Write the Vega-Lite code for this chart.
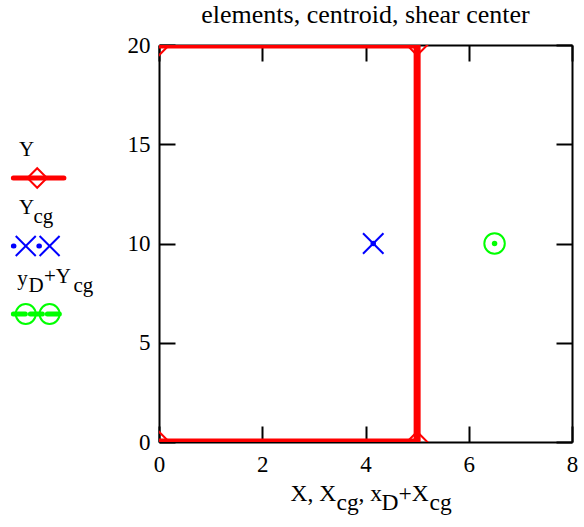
{
  "$schema": "https://vega.github.io/schema/vega-lite/v6.json",
  "background": "white",
  "padding": {"left": 0, "top": 2, "right": 5, "bottom": 2},
  "config": {
    "view": {"stroke": null},
    "concat": {"spacing": 0},
    "font": "Liberation Serif",
    "axis": {
      "domainColor": "black", "domainWidth": 2, "tickColor": "black", "tickWidth": 2,
      "tickSize": -16, "grid": false, "labelFont": "Liberation Serif", "labelFontSize": 23,
      "labelColor": "black", "labelFlush": false, "labelOverlap": false, "title": null
    }
  },
  "datasets": {
    "pts": [
      {"series": "Y", "order": 1, "X": 0, "Y": 20},
      {"series": "Y", "order": 2, "X": 5, "Y": 20},
      {"series": "Y", "order": 3, "X": 5, "Y": 0},
      {"series": "Y", "order": 4, "X": 0, "Y": 0},
      {"series": "Ycg", "order": 1, "X": 4.15, "Y": 10},
      {"series": "yD+Ycg", "order": 1, "X": 6.5, "Y": 10}
    ],
    "leg": [
      {"series": "Y", "a": "Y", "b": "", "c": "", "d": ""},
      {"series": "Ycg", "a": "Y", "b": "cg", "c": "", "d": ""},
      {"series": "yD+Ycg", "a": "y", "b": "D", "c": "+Y", "d": "cg"}
    ],
    "xt": [
      {"a": "X, X", "b": "cg", "c": ", x", "d": "D", "e": "+X", "f": "cg"}
    ]
  },
  "hconcat": [
    {
      "width": 124,
      "height": 397,
      "data": {"name": "leg"},
      "encoding": {
        "y": {"field": "series", "type": "nominal", "axis": null,
              "scale": {"type": "point", "domain": ["Y", "Ycg", "yD+Ycg"], "range": [133, 269], "padding": 0}}
      },
      "layer": [
        {
          "mark": {"type": "rule", "strokeWidth": 5, "strokeCap": "round"},
          "encoding": {
            "x": {"datum": 14, "type": "quantitative", "scale": {"domain": [0, 124]}, "axis": null},
            "x2": {"datum": 67},
            "color": {"field": "series", "type": "nominal", "legend": null,
                      "scale": {"domain": ["Y", "Ycg", "yD+Ycg"], "range": ["#ff0000", "#0000ff", "#00ff00"]}},
            "strokeDash": {"field": "series", "type": "nominal", "legend": null,
                           "scale": {"domain": ["Y", "Ycg", "yD+Ycg"], "range": [[1, 0], [0.6, 24.9], [12, 5]]}}
          }
        },
        {
          "transform": [{"filter": "datum.series === 'Y'"}],
          "mark": {"type": "point", "filled": false, "strokeWidth": 2, "size": 380, "opacity": 1},
          "encoding": {
            "x": {"datum": 39, "type": "quantitative", "axis": null},
            "color": {"field": "series", "type": "nominal", "legend": null},
            "shape": {"field": "series", "type": "nominal", "legend": null,
                      "scale": {"domain": ["Y", "Ycg", "yD+Ycg"], "range": ["diamond", "M-1,-1L1,1M-1,1L1,-1", "circle"]}}
          }
        },
        {
          "transform": [{"filter": "datum.series !== 'Y'"}],
          "mark": {"type": "point", "filled": false, "strokeWidth": 2, "size": 400, "opacity": 1},
          "encoding": {
            "x": {"datum": 27, "type": "quantitative", "axis": null},
            "color": {"field": "series", "type": "nominal", "legend": null},
            "shape": {"field": "series", "type": "nominal", "legend": null}
          }
        },
        {
          "transform": [{"filter": "datum.series !== 'Y'"}],
          "mark": {"type": "point", "filled": false, "strokeWidth": 2, "size": 400, "opacity": 1},
          "encoding": {
            "x": {"datum": 52, "type": "quantitative", "axis": null},
            "color": {"field": "series", "type": "nominal", "legend": null},
            "shape": {"field": "series", "type": "nominal", "legend": null}
          }
        },
        {
          "transform": [{"filter": "datum.series === 'Y'"}],
          "mark": {"type": "text", "align": "left", "baseline": "alphabetic", "fontSize": 21, "dy": -22, "color": "black"},
          "encoding": {"x": {"datum": 20, "type": "quantitative", "axis": null}, "text": {"field": "a"}}
        },
        {
          "transform": [{"filter": "datum.series === 'Ycg'"}],
          "mark": {"type": "text", "align": "left", "baseline": "alphabetic", "fontSize": 21, "dy": -32, "color": "black"},
          "encoding": {"x": {"datum": 20, "type": "quantitative", "axis": null}, "text": {"field": "a"}}
        },
        {
          "transform": [{"filter": "datum.series === 'Ycg'"}],
          "mark": {"type": "text", "align": "left", "baseline": "alphabetic", "fontSize": 21, "dy": -23, "color": "black"},
          "encoding": {"x": {"datum": 35, "type": "quantitative", "axis": null}, "text": {"field": "b"}}
        },
        {
          "transform": [{"filter": "datum.series === 'yD+Ycg'"}],
          "mark": {"type": "text", "align": "left", "baseline": "alphabetic", "fontSize": 21, "dy": -29, "color": "black"},
          "encoding": {"x": {"datum": 18, "type": "quantitative", "axis": null}, "text": {"field": "a"}}
        },
        {
          "transform": [{"filter": "datum.series === 'yD+Ycg'"}],
          "mark": {"type": "text", "align": "left", "baseline": "alphabetic", "fontSize": 21, "dy": -22, "color": "black"},
          "encoding": {"x": {"datum": 30, "type": "quantitative", "axis": null}, "text": {"field": "b"}}
        },
        {
          "transform": [{"filter": "datum.series === 'yD+Ycg'"}],
          "mark": {"type": "text", "align": "left", "baseline": "alphabetic", "fontSize": 21, "dy": -31, "color": "black"},
          "encoding": {"x": {"datum": 46, "type": "quantitative", "axis": null}, "text": {"field": "c"}}
        },
        {
          "transform": [{"filter": "datum.series === 'yD+Ycg'"}],
          "mark": {"type": "text", "align": "left", "baseline": "alphabetic", "fontSize": 21, "dy": -22, "color": "black"},
          "encoding": {"x": {"datum": 77, "type": "quantitative", "axis": null}, "text": {"field": "d"}}
        }
      ]
    },
    {
      "width": 413,
      "height": 397,
      "title": {"text": "elements, centroid, shear center", "fontSize": 26, "font": "Liberation Serif",
                "fontWeight": "normal", "color": "black", "offset": 6},
      "resolve": {"axis": {"x": "independent", "y": "independent"}},
      "layer": [
        {
          "data": {"name": "pts"},
          "transform": [{"filter": "datum.series === 'Y'"}],
          "mark": {"type": "line", "strokeWidth": 7, "clip": true},
          "encoding": {
            "x": {"field": "X", "type": "quantitative", "scale": {"domain": [0, 8], "nice": false, "zero": false},
                  "axis": {"orient": "bottom", "values": [0, 2, 4, 6, 8], "labelPadding": 27, "labelFont": "Liberation Serif"}},
            "y": {"field": "Y", "type": "quantitative", "scale": {"domain": [0, 20], "nice": false, "zero": false},
                  "axis": {"orient": "left", "values": [0, 5, 10, 15, 20], "labelPadding": 25, "labelFont": "Liberation Serif",
                           "minExtent": 35, "maxExtent": 35}},
            "order": {"field": "order", "type": "quantitative"},
            "color": {"field": "series", "type": "nominal", "legend": null}
          }
        },
        {
          "data": {"name": "pts"},
          "mark": {"type": "point", "filled": false, "strokeWidth": 2, "size": 420, "opacity": 1, "clip": true},
          "encoding": {
            "x": {"field": "X", "type": "quantitative",
                  "axis": {"orient": "top", "values": [0, 2, 4, 6, 8], "labels": false}},
            "y": {"field": "Y", "type": "quantitative",
                  "axis": {"orient": "right", "values": [0, 5, 10, 15, 20], "labels": false}},
            "color": {"field": "series", "type": "nominal", "legend": null},
            "shape": {"field": "series", "type": "nominal", "legend": null}
          }
        },
        {
          "data": {"name": "pts"},
          "transform": [{"filter": "datum.series !== 'Y'"}],
          "mark": {"type": "point", "filled": true, "size": 30, "opacity": 1, "shape": "circle", "clip": true},
          "encoding": {
            "x": {"field": "X", "type": "quantitative", "axis": null},
            "y": {"field": "Y", "type": "quantitative", "axis": null},
            "color": {"field": "series", "type": "nominal", "legend": null}
          }
        },
        {
          "data": {"name": "xt"},
          "layer": [
            {"mark": {"type": "text", "align": "left", "baseline": "alphabetic", "fontSize": 23.5, "dx": -75, "dy": 59, "color": "black"},
             "encoding": {"text": {"field": "a"}}},
            {"mark": {"type": "text", "align": "left", "baseline": "alphabetic", "fontSize": 23.5, "dx": -29, "dy": 68, "color": "black"},
             "encoding": {"text": {"field": "b"}}},
            {"mark": {"type": "text", "align": "left", "baseline": "alphabetic", "fontSize": 23.5, "dx": -7, "dy": 59, "color": "black"},
             "encoding": {"text": {"field": "c"}}},
            {"mark": {"type": "text", "align": "left", "baseline": "alphabetic", "fontSize": 23.5, "dx": 16, "dy": 68, "color": "black"},
             "encoding": {"text": {"field": "d"}}},
            {"mark": {"type": "text", "align": "left", "baseline": "alphabetic", "fontSize": 23.5, "dx": 33, "dy": 59, "color": "black"},
             "encoding": {"text": {"field": "e"}}},
            {"mark": {"type": "text", "align": "left", "baseline": "alphabetic", "fontSize": 23.5, "dx": 64, "dy": 68, "color": "black"},
             "encoding": {"text": {"field": "f"}}}
          ],
          "encoding": {
            "x": {"datum": 4, "type": "quantitative", "axis": null},
            "y": {"datum": 0, "type": "quantitative", "axis": null}
          }
        }
      ]
    }
  ]
}
